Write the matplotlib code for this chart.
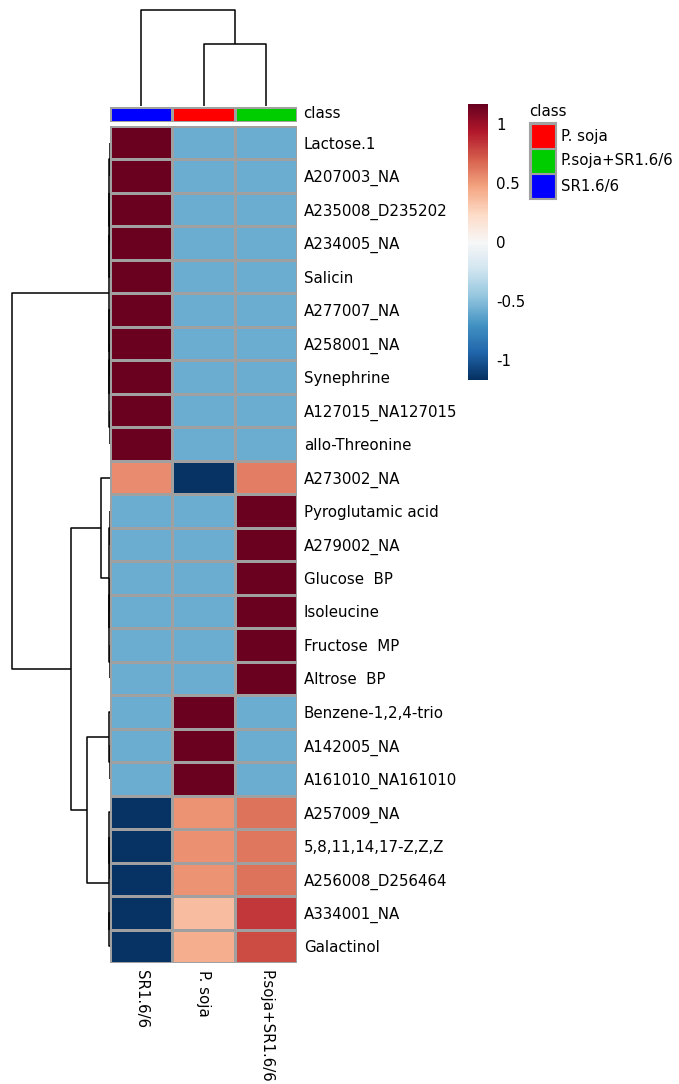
import numpy as np
import matplotlib
matplotlib.use("Agg")
import matplotlib.pyplot as plt
from matplotlib.patches import Rectangle
from matplotlib.colors import Normalize
from matplotlib.cm import ScalarMappable

# data (row z-scores, columns in clustered order)
samples = ["SR1.6/6", "P. soja", "P.soja+SR1.6/6"]
sample_class_colors = ["#0000FF", "#FF0000", "#00CD00"]
legend_labels = ["P. soja", "P.soja+SR1.6/6", "SR1.6/6"]
legend_colors = ["#FF0000", "#00CD00", "#0000FF"]

metabolites = ["Lactose.1", "A207003_NA", "A235008_D235202", "A234005_NA", "Salicin",
               "A277007_NA", "A258001_NA", "Synephrine", "A127015_NA127015", "allo-Threonine",
               "A273002_NA", "Pyroglutamic acid", "A279002_NA", "Glucose  BP", "Isoleucine",
               "Fructose  MP", "Altrose  BP", "Benzene-1,2,4-trio", "A142005_NA", "A161010_NA161010",
               "A257009_NA", "5,8,11,14,17-Z,Z,Z", "A256008_D256464", "A334001_NA", "Galactinol"]

sr_col = [1.155] * 10 + [0.55] + [-0.577] * 9 + [-1.155] * 5
psoja_col = [-0.577] * 10 + [-1.155] + [-0.577] * 6 + [1.155] * 3 + [0.52, 0.53, 0.52, 0.36, 0.42]
mix_col = [-0.577] * 10 + [0.60] + [1.155] * 6 + [-0.577] * 3 + [0.63, 0.62, 0.63, 0.82, 0.76]

# row tree: (left, right, height); ints are leaves
row_tree = (
    (((0, 1, 0.4), (2, 3, 0.4), 0.6), 4, 0.8),
    (5, ((6, 7, 0.4), (8, 9, 0.4), 0.6), 0.8), 1.0)
row_tree = (row_tree,
            ((10, (((15, 16, 0.3), (13, 14, 0.3), 0.5), (11, 12, 0.3), 0.7), 9.0),
             ((17, (18, 19, 0.4), 0.8), ((20, (21, 22, 0.4), 0.7), (23, 24, 0.5), 1.2), 22.0),
             38.0),
            95.0)
col_tree = (0, (1, 2, 0.646), 1.0)

data = np.array([sr_col, psoja_col, mix_col]).T

FS = 10.8
W, H = 679, 1084
fig = plt.figure(figsize=(W / 100, H / 100), dpi=100)


def px_axes(x0, y0, x1, y1):
    return fig.add_axes([x0 / W, 1 - y1 / H, (x1 - x0) / W, (y1 - y0) / H])


def draw_tree(ax, node, vertical):
    if isinstance(node, int):
        return node + 0.5, 0.0
    pa, ha = draw_tree(ax, node[0], vertical)
    pb, hb = draw_tree(ax, node[1], vertical)
    h = node[2]
    xs = [ha, h, h, hb]
    ys = [pa, pa, pb, pb]
    if vertical:
        ax.plot(ys, xs, color="black", lw=1.1, solid_capstyle="butt")
    else:
        ax.plot(xs, ys, color="black", lw=1.1, solid_capstyle="butt")
    return (pa + pb) / 2, h


vmax = 1.165
cmap = plt.get_cmap("RdBu_r")
norm = Normalize(-vmax, vmax)

# heatmap
ax = px_axes(110, 126, 297, 963)
ax.pcolormesh(data, cmap=cmap, norm=norm, edgecolors="#a0a0a0", linewidth=1.0)
ax.set_xlim(0, 3)
ax.set_ylim(len(metabolites), 0)
ax.yaxis.tick_right()
ax.set_yticks(np.arange(len(metabolites)) + 0.5)
ax.set_yticklabels(metabolites, fontsize=FS)
ax.set_xticks(np.arange(3) + 0.5)
ax.set_xticklabels(samples, fontsize=FS, rotation=-90, va="top")
ax.tick_params(length=0, pad=5)
for s in ax.spines.values():
    s.set_visible(False)

# class bar
axc = px_axes(110, 107, 297, 122)
axc.pcolormesh(np.arange(3).reshape(1, 3), cmap=matplotlib.colors.ListedColormap(sample_class_colors),
               edgecolors="#a0a0a0", linewidth=1.0)
axc.set_xlim(0, 3)
axc.axis("off")
fig.text(303 / W, 1 - 114 / H, "class", fontsize=FS, va="center", ha="left")

# row dendrogram
axr = px_axes(10, 126, 110, 963)
draw_tree(axr, row_tree, vertical=False)
axr.set_xlim(97, 0)
axr.set_ylim(len(metabolites), 0)
axr.axis("off")

# column dendrogram
axd = px_axes(110, 8, 297, 106)
draw_tree(axd, col_tree, vertical=True)
axd.set_xlim(0, 3)
axd.set_ylim(0, 1.0 * 98 / 96)
axd.axis("off")

# colorbar
axb = px_axes(468, 104, 488, 380)
cb = fig.colorbar(ScalarMappable(norm=norm, cmap=cmap), cax=axb)
cb.outline.set_visible(False)
cb.set_ticks([1, 0.5, 0, -0.5, -1])
cb.set_ticklabels(["1", "0.5", "0", "-0.5", "-1"])
axb.tick_params(length=0, labelsize=FS, pad=6)

# legend
axl = px_axes(520, 100, 679, 210)
axl.set_xlim(520, 679)
axl.set_ylim(210, 100)
axl.axis("off")
axl.text(529, 111, "class", fontsize=FS, va="center", ha="left")
axl.add_patch(Rectangle((530, 123), 26, 76, facecolor="none", edgecolor="#a0a0a0", lw=1.5))
for i, (lab, col) in enumerate(zip(legend_labels, legend_colors)):
    y0 = 124 + i * 25
    axl.add_patch(Rectangle((531, y0), 24, 24, facecolor=col, edgecolor="#a0a0a0", lw=0.8))
    axl.text(561, y0 + 12, lab, fontsize=FS, va="center", ha="left")

fig.savefig("out.png", dpi=100, facecolor="white")
